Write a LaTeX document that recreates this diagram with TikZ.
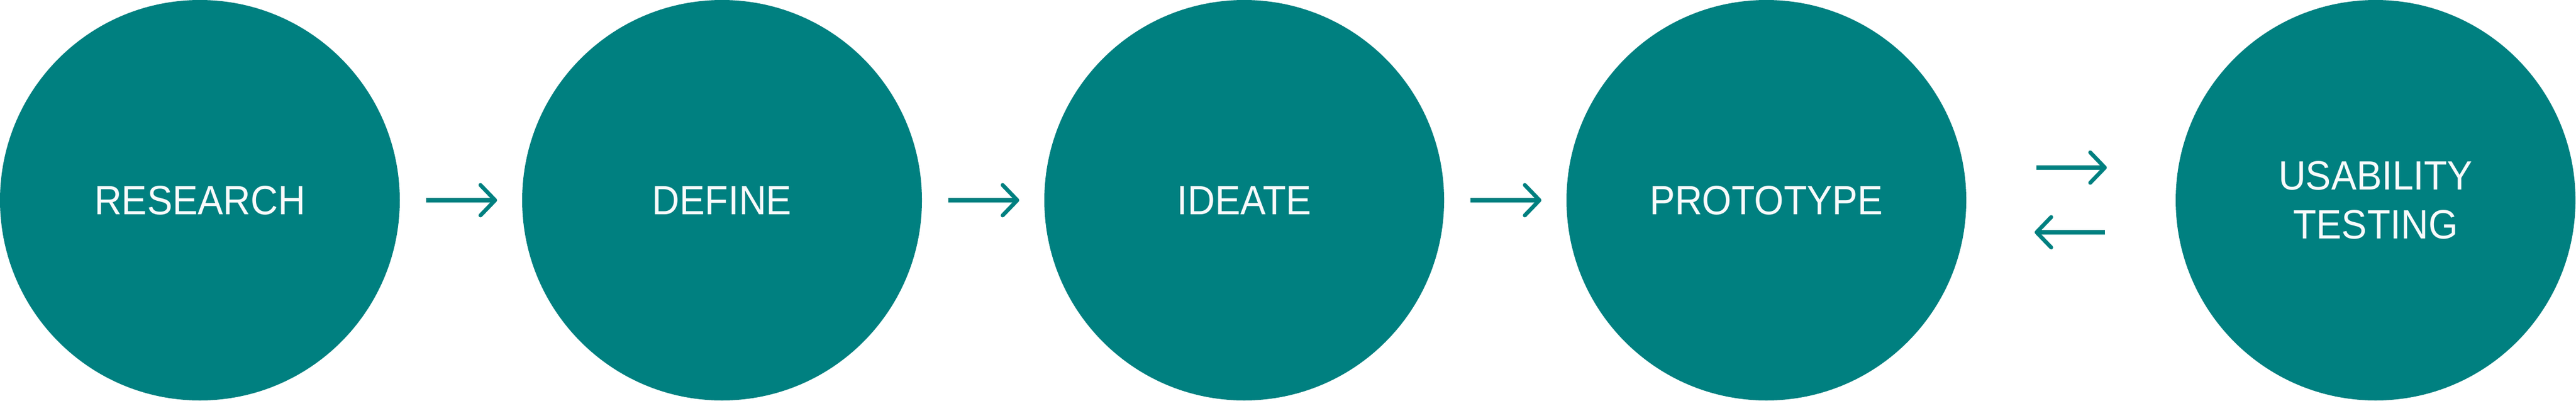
\documentclass[tikz,border=0pt]{standalone}
\usepackage{fontspec}
\setmainfont[FakeStretch=0.93]{Liberation Sans}
\usepackage{tikz}
\usetikzlibrary{arrows.meta}
\definecolor{stage}{RGB}{0,128,128}
\definecolor{label}{RGB}{249,250,251}

\begin{document}
\begin{tikzpicture}[main/.style = {circle, fill=stage, minimum size=7.12cm, inner sep=0pt, text=label, align=center, font=\fontsize{20.7pt}{25pt}\selectfont}, flow/.style = {draw=stage, line width=2pt, -{Straight Barb[length=2.6mm, width=5.4mm, line cap=round, line join=round]}}]
	\useasboundingbox (0, 0) rectangle (45.88, 7.12);
	\node[main] (R) at (3.56, 3.56){RESEARCH};
	\node[main] (D) at (12.86, 3.56){DEFINE};
	\node[main] (I) at (22.16, 3.56){IDEATE};
	\node[main] (P) at (31.46, 3.56){PROTOTYPE};
	\node[main] (T) at (42.31, 3.56){USABILITY\\TESTING};
	\draw[flow, shorten <=0.46cm, shorten >=0.44cm] (R) -- (D);
	\draw[flow, shorten <=0.46cm, shorten >=0.44cm] (D) -- (I);
	\draw[flow, shorten <=0.46cm, shorten >=0.44cm] (I) -- (P);
	\draw[flow, shorten <=1.24cm, shorten >=1.22cm] ([yshift=0.58cm]P.east) -- ([yshift=0.58cm]T.west);
	\draw[flow, shorten <=1.25cm, shorten >=1.21cm] ([yshift=-0.57cm]T.west) -- ([yshift=-0.57cm]P.east);
\end{tikzpicture}
\end{document}
